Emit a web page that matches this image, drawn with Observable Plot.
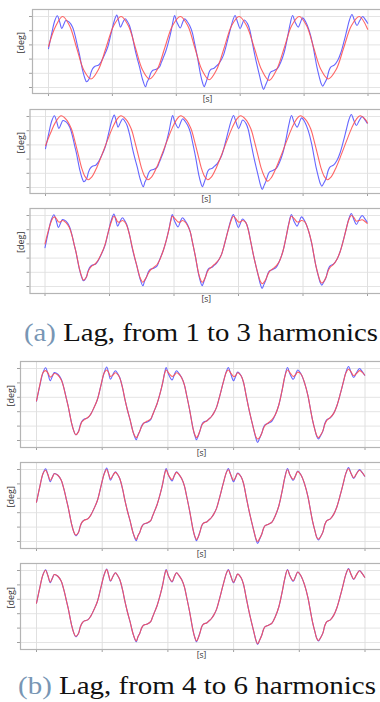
<!DOCTYPE html>
<html>
<head>
<meta charset="utf-8">
<script src="https://cdn.jsdelivr.net/npm/d3@7"></script>
<script src="https://cdn.jsdelivr.net/npm/@observablehq/plot@0.6"></script>
<style>
html, body { margin: 0; padding: 0; background: #fff; }
#root { position: relative; width: 380px; height: 702px; overflow: hidden; background: #fff; }
#root > svg { position: absolute; left: 0; max-width: none; }
.cap { position: absolute; left: 0; white-space: pre; font-family: "Liberation Serif", "DejaVu Serif", "Times New Roman", serif; color: #111; transform-origin: 0 0; line-height: 1; }
.cap .tag { color: #7896b4; }
</style>
</head>
<body>
<div id="root"></div>
<script>
// ---------- data ----------
const xTicks = [0, 1, 2, 3, 4, 5];
const yTicks = [-20, -10, 0, 10, 20, 30];
const xLabel = "[s]";
const yLabel = "[deg]";
const captionTags = ["(a)", "(b)"];
const captionTexts = [" Lag, from 1 to 3 harmonics", " Lag, from 4 to 6 harmonics"];

// measured lag: time [s] and angle [deg]
const measuredT = [0,0.05,0.098,0.138,0.173,0.209,0.24,0.272,0.325,0.377,0.405,0.429,0.455,0.482,0.534,0.565,0.597,0.639,0.665,0.691,0.728,0.78,0.822,0.874,0.927,0.979,1.031,1.068,1.1,1.126,1.165,1.2,1.235,1.267,1.31,1.346,1.385,1.424,1.455,1.476,1.518,1.545,1.571,1.605,1.634,1.686,1.738,1.765,1.79,1.835,1.88,1.921,1.95,1.974,2.01,2.063,2.1,2.131,2.17,2.209,2.252,2.278,2.33,2.382,2.41,2.435,2.46,2.49,2.52,2.55,2.59,2.625,2.66,2.7,2.74,2.775,2.815,2.855,2.89,2.92,2.955,2.999,3.03,3.062,3.114,3.15,3.192,3.23,3.27,3.31,3.34,3.365,3.395,3.428,3.455,3.48,3.532,3.584,3.636,3.69,3.741,3.78,3.82,3.86,3.908,3.94,3.976,4.028,4.08,4.133,4.165,4.2,4.24,4.265,4.289,4.32,4.357,4.39,4.42,4.472,4.525,4.575,4.629,4.67,4.71,4.749,4.79,4.828,4.87,4.917,4.955,4.995];
const measuredV = [7.3,18,27,30.5,26.5,21.5,24.5,27.2,26,22.5,18.5,14.3,9,3.8,-7.9,-13,-16,-13.7,-9.5,-6.7,-5,-4.3,-2,2.7,8.5,17.9,27.2,31,26.5,22.5,26,28.4,26.5,23.7,16.5,8.5,1,-5.5,-11.5,-14.9,-19.5,-16,-13.7,-9.5,-7.9,-7.1,-5.5,-2.5,0.3,5.5,12.5,20.2,27,30.7,26,22,26,28.4,26.5,23.7,18.5,13,1.5,-11.5,-16.5,-19.5,-17,-13,-8.5,-7,-6.5,-5,-3.5,-0.8,3,8.5,15.5,22.5,28,30.7,26.5,21.5,24.5,27.5,25,20.5,11,2.5,-5.5,-13,-18.5,-21.4,-18.5,-15,-11,-9,-8,-6.5,-2,5,15.5,24.5,30.7,26,22.5,25.5,29,26,20,10.8,3,-5.5,-13,-17,-19,-17,-13.7,-8,-5.5,-4.3,-1,4.5,13.2,20.5,27.5,31.4,27,23.7,27,30,28,25.3];

// fits with 1 and 2 harmonics: [t, deg]
const fit1 = [[0,9],[0.11,23],[0.22,30],[0.33,23.5],[0.44,8],[0.55,-7.5],[0.665,-14],[0.78,-7.5],[0.9,8],[1.02,23.5],[1.136,30],[1.25,23.5],[1.36,8],[1.47,-7.5],[1.58,-14],[1.7,-7.5],[1.82,8],[1.94,23.5],[2.063,30],[2.18,23.5],[2.29,8],[2.4,-7.5],[2.513,-14.5],[2.63,-7.5],[2.75,8],[2.865,23.5],[2.983,30],[3.1,23.5],[3.22,8],[3.335,-7.5],[3.453,-15],[3.57,-7.5],[3.69,8],[3.805,23.5],[3.923,30],[4.04,23.5],[4.15,8],[4.265,-7.5],[4.378,-14],[4.5,-7.5],[4.62,8],[4.74,23.5],[4.864,30],[4.995,21]];
const fit2 = [[0,9.5],[0.08,18.5],[0.15,25.5],[0.24,30.5],[0.32,28],[0.4,21.5],[0.46,12],[0.51,3],[0.56,-6],[0.61,-12],[0.66,-14.5],[0.72,-12.5],[0.8,-5.5],[0.88,3.5],[0.96,13],[1.04,22],[1.11,28],[1.169,30.5],[1.249,28],[1.329,21.5],[1.389,12],[1.439,3],[1.489,-6],[1.539,-12],[1.589,-14.5],[1.649,-12.5],[1.729,-5.5],[1.809,3.5],[1.889,13],[1.969,22],[2.039,28],[2.098,30.5],[2.178,28],[2.258,21.5],[2.318,12],[2.368,3],[2.418,-6],[2.468,-12],[2.518,-14.5],[2.578,-12.5],[2.658,-5.5],[2.738,3.5],[2.818,13],[2.898,22],[2.968,28],[3.027,30.5],[3.107,28],[3.187,21.5],[3.247,12],[3.297,3],[3.347,-6],[3.397,-12],[3.447,-15.5],[3.507,-13],[3.587,-5.5],[3.667,3.5],[3.747,13],[3.827,22],[3.897,28],[3.956,30.5],[4.036,28],[4.116,21.5],[4.176,12],[4.226,3],[4.276,-6],[4.326,-12],[4.376,-14.5],[4.436,-12.5],[4.516,-5.5],[4.596,3.5],[4.676,13],[4.756,22],[4.826,28],[4.885,30.5],[4.965,28],[5,25.5]];

// fits with 3..6 harmonics, read at the measured times [deg]
const fit3V = [10,19,26,29,28,25.5,25.5,26.5,25,21.5,18,14,9,4,-7.5,-12.5,-15.5,-13.5,-10,-7.5,-5.5,-4,-1.5,3,9,18,26,29.5,28,25.5,25.5,26.5,25.5,23,16.5,9,1.5,-5.5,-11,-14,-17,-15.5,-13.5,-10.5,-8.5,-6.5,-4.5,-2.5,0,5.5,12.5,20,26,29.5,28,25.5,25.5,26.5,25.5,23,18.5,13,1.5,-11,-15,-17,-16,-13,-9.5,-7.5,-6,-4.5,-3,-0.8,3,8.5,15.5,22,27,29.5,28,25.5,25.5,26.5,25,20,11,2.5,-5.5,-12.5,-16.5,-18,-17,-14.5,-11.5,-9.5,-7.5,-5.5,-2,5,15.5,24,29.5,28,25.5,25.5,26.5,25.5,20,11,3,-5.5,-12.5,-16,-17.5,-16.5,-13.5,-9,-6.5,-4.5,-1,4.5,13,20.5,27,30,28.5,26,26.5,27,26,24.5];
const fit4V = [7.5,18.5,27,28.5,27,24,25,26.5,25.5,22,18.5,14,9,3.8,-8,-13,-16,-14,-10,-7,-5.5,-4,-2,2.7,8.5,18,27,29,27,24.5,25.5,27,26,23.5,16.5,8.5,1,-5.5,-11.5,-15,-18,-16.5,-13.5,-10,-8,-6.5,-5,-2.5,0.3,5.5,12.5,20.2,26.5,29,27,24.5,25.5,27,26,23.5,18.5,13,1.5,-11.5,-16,-18,-16.5,-13,-9,-7.5,-6.5,-5,-3.5,-0.8,3,8.5,15.5,22.5,27.5,29,27,24.5,25,27,25,20.5,11,2.5,-5.5,-13,-17.5,-19,-18,-15,-11.5,-9.5,-7.5,-5.5,-2,5,15.5,24.5,29,27,24.5,25.5,27.5,26,20,10.8,3,-5.5,-13,-16.5,-18,-16.5,-13.5,-8.5,-6,-4,-1,4.5,13.2,20.5,27,29.5,27.5,25,26.5,28.5,27.5,25.5];
const fit5V = [7.3,18,27,29.5,26.5,22.5,24.5,27,26,22.5,18.5,14.3,9,3.8,-7.9,-13,-15.5,-13.7,-9.5,-6.7,-5.2,-4.3,-2,2.7,8.5,17.9,27,30,26.5,23.5,26,28,26.5,23.7,16.5,8.5,1,-5.5,-11.5,-14.9,-18.5,-16,-13.7,-9.5,-7.9,-7,-5.5,-2.5,0.3,5.5,12.5,20.2,27,29.8,26,23,26,28,26.5,23.7,18.5,13,1.5,-11.5,-16.5,-18.5,-17,-13,-8.5,-7,-6.5,-5,-3.5,-0.8,3,8.5,15.5,22.5,28,29.8,26.5,22.5,24.5,27.2,25,20.5,11,2.5,-5.5,-13,-18,-20,-18,-15,-11,-9,-8,-6.5,-2,5,15.5,24.5,29.8,26,23.2,25.5,28.5,26,20,10.8,3,-5.5,-13,-17,-18.3,-17,-13.7,-8,-5.5,-4.3,-1,4.5,13.2,20.5,27.5,30.5,27,24.3,27,29.5,28,25.5];
const fit6V = [7.3,18,27,30.2,26.5,22,24.5,27.2,26,22.5,18.5,14.3,9,3.8,-7.9,-13,-15.7,-13.7,-9.5,-6.7,-5,-4.3,-2,2.7,8.5,17.9,27.2,30.6,26.5,22.9,26,28.4,26.5,23.7,16.5,8.5,1,-5.5,-11.5,-14.9,-19,-16,-13.7,-9.5,-7.9,-7.1,-5.5,-2.5,0.3,5.5,12.5,20.2,27,30.3,26,22.4,26,28.4,26.5,23.7,18.5,13,1.5,-11.5,-16.5,-19,-17,-13,-8.5,-7,-6.5,-5,-3.5,-0.8,3,8.5,15.5,22.5,28,30.3,26.5,21.9,24.5,27.5,25,20.5,11,2.5,-5.5,-13,-18.5,-20.8,-18.5,-15,-11,-9,-8,-6.5,-2,5,15.5,24.5,30.3,26,22.9,25.5,29,26,20,10.8,3,-5.5,-13,-17,-18.6,-17,-13.7,-8,-5.5,-4.3,-1,4.5,13.2,20.5,27.5,31,27,24.1,27,29.8,28,25.3];

// ---------- layout / style ----------
const BLUE = "#6666ff";
const RED = "#ff5050";
const FONT = "'Open Sans', 'DejaVu Sans', sans-serif";

const pairsRows = a => a.map(([t, v]) => ({t, v}));
const zipRows = (ts, vs) => ts.map((t, i) => ({t, v: vs[i]}));
const measuredRows = zipRows(measuredT, measuredV);

const panels = [
  {rows: pairsRows(fit1),             top: 0,   left: 32,   x0: 48,   x1: 367.5, mb: 13, yb: 87, yt: 16, degDx: -11},
  {rows: pairsRows(fit2),             top: 100, left: 29.5, x0: 45,   x1: 367,   mb: 13, yb: 87, yt: 16, degDx: -8.5},
  {rows: zipRows(measuredT, fit3V),   top: 199, left: 29.5, x0: 44.5, x1: 367,   mb: 12, yb: 87, yt: 16, degDx: -8.5},
  {rows: zipRows(measuredT, fit4V),   top: 352, left: 20,   x0: 36,   x1: 364.5, mb: 11, yb: 88, yt: 16, degDx: -9},
  {rows: zipRows(measuredT, fit5V),   top: 453, left: 20,   x0: 36,   x1: 364.5, mb: 11, yb: 88, yt: 16, degDx: -9},
  {rows: zipRows(measuredT, fit6V),   top: 554, left: 20,   x0: 36,   x1: 364.5, mb: 11, yb: 88, yt: 16, degDx: -9}
];

const root = document.getElementById("root");

for (const p of panels) {
  const svg = Plot.plot({
    width: 380,
    height: 106,
    marginTop: 9,
    marginBottom: p.mb,
    marginLeft: p.left,
    marginRight: -2,
    style: {background: "transparent", overflow: "visible", color: "#a0a0a0", fontFamily: FONT},
    x: {domain: [0, 5], range: [p.x0, p.x1], ticks: xTicks, tickSize: 3, tickFormat: () => "", label: null},
    y: {domain: [-20, 30], range: [p.yb, p.yt], ticks: yTicks, tickSize: 3, tickFormat: () => "", label: null},
    marks: [
      Plot.ruleY(yTicks, {stroke: "#e4e4e4", strokeWidth: 1}),
      Plot.ruleX(xTicks, {stroke: "#e0e0e0", strokeWidth: 1}),
      Plot.frame({stroke: "#b4b4b4", strokeWidth: 1.2}),
      Plot.line(measuredRows, {x: "t", y: "v", stroke: BLUE, strokeWidth: 1.1, curve: "catmull-rom"}),
      Plot.line(p.rows, {x: "t", y: "v", stroke: RED, strokeWidth: 1.1, strokeOpacity: 0.88, curve: "catmull-rom"}),
      Plot.text([xLabel], {text: d => d, frameAnchor: "bottom", dy: 8, fill: "#333", fontSize: 8.5, fontFamily: FONT}),
      Plot.text([yLabel], {text: d => d, frameAnchor: "left", dx: p.degDx, dy: 2, rotate: -90, fill: "#333", fontSize: 9, fontFamily: FONT})
    ]
  });
  svg.style.position = "absolute";
  svg.style.top = p.top + "px";
  svg.style.left = "0px";
  root.appendChild(svg);
}

// captions (HTML text below each group of panels, scaled to the reference width)
const capPos = [{x: 24, top: 320, w: 354}, {x: 18, top: 673, w: 358}];
capPos.forEach((c, i) => {
  const d = document.createElement("div");
  d.className = "cap";
  d.style.fontSize = "26px";
  const tag = document.createElement("span");
  tag.className = "tag";
  tag.textContent = captionTags[i];
  d.appendChild(tag);
  d.appendChild(document.createTextNode(captionTexts[i]));
  root.appendChild(d);
  const natural = d.getBoundingClientRect().width;
  d.style.left = c.x + "px";
  d.style.top = c.top + "px";
  d.style.transform = `scaleX(${c.w / natural})`;
});
</script>
</body>
</html>
